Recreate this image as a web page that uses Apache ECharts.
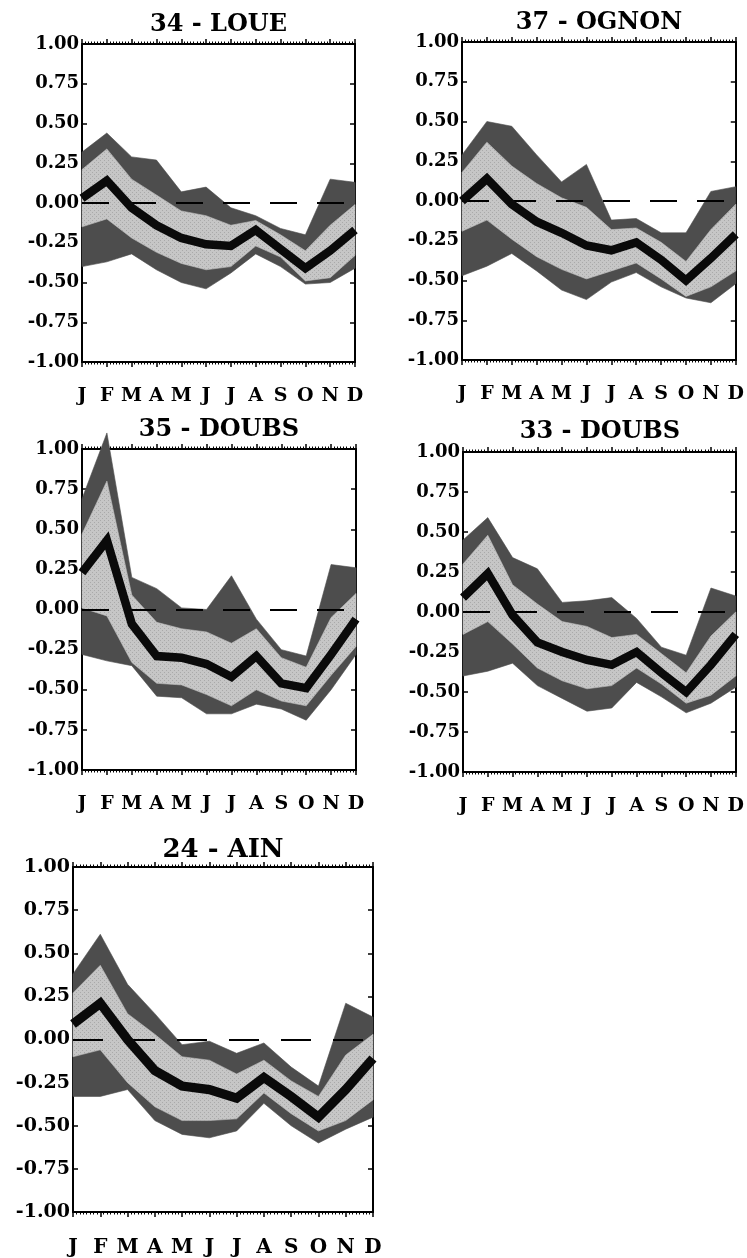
<!DOCTYPE html>
<html><head><meta charset="utf-8">
<script src="https://cdn.jsdelivr.net/npm/echarts@6/dist/echarts.min.js"></script>
<style>html,body{margin:0;padding:0;background:#fff}#c{width:747px;height:1258px}</style>
</head><body><div id="c"></div>
<script>
// ---- data ----
const months = ['J','F','M','A','M','J','J','A','S','O','N','D'];
const titles = ['34 - LOUE','37 - OGNON','35 - DOUBS','33 - DOUBS','24 - AIN'];

const loueOuterHi = [0.32,0.44,0.29,0.27,0.07,0.10,-0.03,-0.08,-0.16,-0.20,0.15,0.13];
const loueInnerHi = [0.21,0.34,0.15,0.05,-0.05,-0.08,-0.14,-0.11,-0.20,-0.30,-0.14,-0.01];
const loueMedian  = [0.03,0.14,-0.03,-0.14,-0.22,-0.26,-0.27,-0.17,-0.29,-0.41,-0.30,-0.17];
const loueInnerLo = [-0.15,-0.10,-0.22,-0.31,-0.38,-0.42,-0.40,-0.27,-0.34,-0.49,-0.47,-0.33];
const loueOuterLo = [-0.40,-0.37,-0.32,-0.42,-0.50,-0.54,-0.44,-0.32,-0.40,-0.51,-0.50,-0.41];

const ognonOuterHi = [0.29,0.50,0.47,0.29,0.12,0.23,-0.12,-0.11,-0.20,-0.20,0.06,0.09];
const ognonInnerHi = [0.18,0.37,0.22,0.11,0.02,-0.04,-0.18,-0.17,-0.26,-0.38,-0.18,-0.02];
const ognonMedian  = [0.00,0.14,-0.02,-0.13,-0.20,-0.28,-0.31,-0.26,-0.37,-0.50,-0.36,-0.21];
const ognonInnerLo = [-0.19,-0.12,-0.24,-0.35,-0.43,-0.49,-0.44,-0.39,-0.49,-0.60,-0.54,-0.44];
const ognonOuterLo = [-0.47,-0.41,-0.33,-0.44,-0.56,-0.62,-0.51,-0.45,-0.54,-0.61,-0.64,-0.52];

const doubs35OuterHi = [0.69,1.10,0.20,0.13,0.01,0.00,0.21,-0.06,-0.25,-0.29,0.28,0.26];
const doubs35InnerHi = [0.47,0.80,0.09,-0.08,-0.12,-0.14,-0.21,-0.12,-0.30,-0.36,-0.05,0.10];
const doubs35Median  = [0.23,0.43,-0.09,-0.29,-0.30,-0.34,-0.42,-0.29,-0.46,-0.49,-0.28,-0.06];
const doubs35InnerLo = [0.01,-0.04,-0.33,-0.46,-0.47,-0.53,-0.60,-0.50,-0.57,-0.60,-0.41,-0.23];
const doubs35OuterLo = [-0.28,-0.32,-0.35,-0.54,-0.55,-0.65,-0.65,-0.59,-0.62,-0.69,-0.50,-0.28];

const doubs33OuterHi = [0.45,0.59,0.34,0.27,0.06,0.07,0.09,-0.04,-0.22,-0.27,0.15,0.10];
const doubs33InnerHi = [0.30,0.48,0.17,0.05,-0.06,-0.09,-0.16,-0.14,-0.26,-0.38,-0.15,0.00];
const doubs33Median  = [0.09,0.24,-0.02,-0.19,-0.25,-0.30,-0.33,-0.25,-0.38,-0.50,-0.33,-0.14];
const doubs33InnerLo = [-0.14,-0.06,-0.20,-0.35,-0.43,-0.48,-0.46,-0.35,-0.45,-0.57,-0.52,-0.40];
const doubs33OuterLo = [-0.40,-0.37,-0.32,-0.46,-0.54,-0.62,-0.60,-0.44,-0.53,-0.63,-0.57,-0.47];

const ainOuterHi = [0.38,0.61,0.32,0.15,-0.03,-0.01,-0.08,-0.02,-0.16,-0.27,0.21,0.13];
const ainInnerHi = [0.27,0.43,0.15,0.03,-0.10,-0.12,-0.20,-0.12,-0.24,-0.33,-0.09,0.03];
const ainMedian  = [0.09,0.21,0.00,-0.18,-0.27,-0.29,-0.34,-0.22,-0.33,-0.45,-0.29,-0.11];
const ainInnerLo = [-0.10,-0.06,-0.25,-0.39,-0.47,-0.47,-0.46,-0.31,-0.43,-0.53,-0.47,-0.35];
const ainOuterLo = [-0.33,-0.33,-0.29,-0.47,-0.55,-0.57,-0.53,-0.37,-0.50,-0.60,-0.52,-0.45];

// ---- layout / style ----
const panels = [
  {title: titles[0], oh: loueOuterHi, ih: loueInnerHi, med: loueMedian, il: loueInnerLo, ol: loueOuterLo,
   grid: {left: 82, top: 44, width: 273, height: 318}, titleY: 26, s: 1},
  {title: titles[1], oh: ognonOuterHi, ih: ognonInnerHi, med: ognonMedian, il: ognonInnerLo, ol: ognonOuterLo,
   grid: {left: 462, top: 42, width: 274, height: 318}, titleY: 24, s: 1},
  {title: titles[2], oh: doubs35OuterHi, ih: doubs35InnerHi, med: doubs35Median, il: doubs35InnerLo, ol: doubs35OuterLo,
   grid: {left: 82, top: 449, width: 274, height: 321}, titleY: 431, s: 1},
  {title: titles[3], oh: doubs33OuterHi, ih: doubs33InnerHi, med: doubs33Median, il: doubs33InnerLo, ol: doubs33OuterLo,
   grid: {left: 463, top: 452, width: 274, height: 320}, titleY: 433, s: 1},
  {title: titles[4], oh: ainOuterHi, ih: ainInnerHi, med: ainMedian, il: ainInnerLo, ol: ainOuterLo,
   grid: {left: 73, top: 867, width: 300, height: 351}, titleY: 851, s: 1.1}
];

const FONT = 'DejaVu Serif';
const DARK = '#4d4d4d', INK = '#000';

// light stippled fill (pattern tile)
const tile = document.createElement('canvas');
tile.width = 4; tile.height = 4;
(function () {
  const g = tile.getContext('2d');
  g.fillStyle = '#c6c6c6'; g.fillRect(0, 0, 4, 4);
  g.fillStyle = '#a9a9a9'; g.fillRect(0, 0, 1, 1); g.fillRect(2, 2, 1, 1);
})();
const LIGHT = {image: tile, repeat: 'repeat'};

function band(gi, upper, lower, fill, stroke, z) {
  return {
    type: 'custom', xAxisIndex: gi * 2, yAxisIndex: gi * 2, clip: false, silent: true, z: z,
    data: upper.map((v, i) => [i, lower[i], v]),
    encode: {x: 0, y: [1, 2]},
    renderItem: function (params, api) {
      if (params.dataIndex !== 0) return null;
      const pts = [];
      for (let i = 0; i < upper.length; i++) pts.push(api.coord([i, upper[i]]));
      for (let i = lower.length - 1; i >= 0; i--) pts.push(api.coord([i, lower[i]]));
      return {type: 'polygon', shape: {points: pts}, style: {fill: fill, stroke: stroke, lineWidth: 0.6}};
    }
  };
}

const option = {
  animation: false,
  backgroundColor: '#fff',
  title: [], grid: [], xAxis: [], yAxis: [], series: []
};

panels.forEach((p, i) => {
  const s = p.s;
  const big = s > 1;
  option.grid.push(Object.assign({containLabel: false}, p.grid));
  option.title.push({
    text: p.title, left: p.grid.left + p.grid.width / 2, top: p.titleY - (big ? 14 : 13),
    textAlign: 'center', padding: 0,
    textStyle: {fontFamily: FONT, fontWeight: 'bold', fontSize: big ? 26 : 24, color: INK}
  });
  const xCommon = {
    type: 'value', gridIndex: i, min: 0, max: 11, interval: 1,
    axisLine: {onZero: false, lineStyle: {color: INK, width: 2}},
    axisTick: {inside: false, length: 5, lineStyle: {color: INK, width: 1.5}},
    minorTick: {show: true, splitNumber: 8, length: 2.5, lineStyle: {color: INK, width: 1}},
    splitLine: {show: false}
  };
  option.xAxis.push(Object.assign({}, xCommon, {
    position: 'bottom',
    axisLabel: {formatter: v => months[v], fontFamily: FONT, fontWeight: 'bold', fontSize: big ? 20 : 19,
      color: INK, margin: big ? 26 : 25, showMinLabel: true, showMaxLabel: true}
  }));
  option.xAxis.push(Object.assign({}, xCommon, {position: 'top', axisLabel: {show: false}}));
  const yCommon = {
    type: 'value', gridIndex: i, min: -1, max: 1, interval: 0.25,
    axisLine: {onZero: false, lineStyle: {color: INK, width: 2}},
    axisTick: {inside: true, length: 5, lineStyle: {color: INK, width: 1.5}},
    splitLine: {show: false}
  };
  option.yAxis.push(Object.assign({}, yCommon, {
    position: 'left',
    axisLabel: {formatter: v => v.toFixed(2), fontFamily: FONT, fontWeight: 'bold', fontSize: big ? 19 : 18,
      color: INK, margin: 3, showMinLabel: true, showMaxLabel: true}
  }));
  option.yAxis.push(Object.assign({}, yCommon, {position: 'right', axisLabel: {show: false}}));

  option.series.push(band(i, p.oh, p.ol, DARK, DARK, 2));
  option.series.push(band(i, p.ih, p.il, LIGHT, '#bdbdbd', 3));
  option.series.push({
    type: 'line', xAxisIndex: i * 2, yAxisIndex: i * 2, z: 5, clip: false, silent: true,
    symbol: 'none', data: p.med.map((v, k) => [k, v]),
    lineStyle: {color: '#0a0a0a', width: 8.5 * s, join: 'miter'},
    markLine: {
      silent: true, symbol: 'none', label: {show: false}, z: 4,
      lineStyle: {color: INK, width: 2, type: [Math.round(27 * s), Math.round(20 * s)]},
      data: [{yAxis: 0}]
    }
  });
});

const chart = echarts.init(document.getElementById('c'), null, {renderer: 'canvas'});
chart.setOption(option);
</script>
</body></html>
